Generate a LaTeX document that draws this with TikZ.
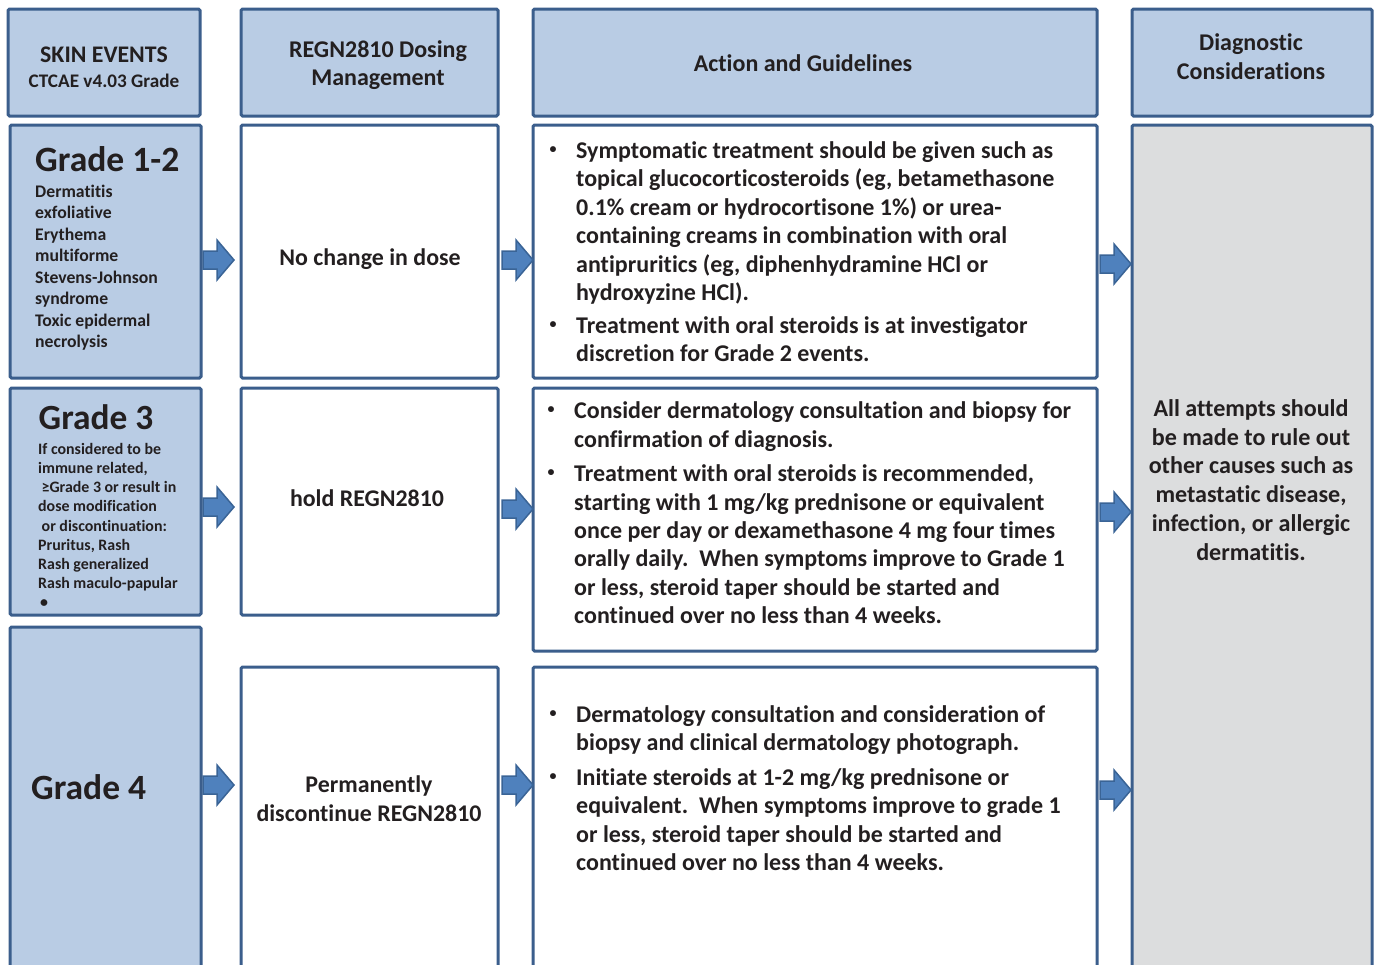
\documentclass[tikz,border=0pt]{standalone}
\usepackage{fontspec}
\setmainfont{Carlito}[Ligatures=NoCommon]
\definecolor{bordc}{HTML}{3B5E8C}
\definecolor{headfill}{HTML}{B9CCE4}
\definecolor{grayfill}{HTML}{DCDDDE}
\definecolor{arrfill}{HTML}{4F81BD}
\definecolor{arrdraw}{HTML}{3A6496}
\definecolor{txtc}{HTML}{231F20}
\newcommand{\mystrut}{\rule{0pt}{0.85em}}
\newcommand{\fsz}[2]{\fontsize{#1}{#2}\selectfont\bfseries}
\tikzset{
  box/.style={draw=bordc, line width=3pt, rectangle, rounded corners=1.5pt, inner sep=0pt, outer sep=0pt, anchor=north west},
  hbox/.style={box, fill=headfill},
  wbox/.style={box, fill=white},
  gbox/.style={box, fill=grayfill},
  txt/.style={inner sep=0pt, text=txtc},
  bul/.style={txt, font=\fsz{14}{16}, anchor=base},
  blkarr/.pic={\draw[fill=arrfill, draw=arrdraw, line width=1.5pt, line join=miter] (0,-9) -- (14,-9) -- (14,-20) -- (31,0) -- (14,20) -- (14,9) -- (0,9) -- cycle;}
}
\begin{document}
\begin{tikzpicture}[x=1pt, y=-1pt]
\useasboundingbox (0,0) rectangle (1380,964);
\clip (0,0) rectangle (1380,964);
% header boxes
\node[hbox, minimum width=192, minimum height=107] (h1) at (8,9) {};
\node[hbox, minimum width=257, minimum height=107] (h2) at (241,9) {};
\node[hbox, minimum width=564, minimum height=107] (h3) at (533,9) {};
\node[hbox, minimum width=240, minimum height=107] (h4) at (1132,9) {};
% row 1
\node[hbox, minimum width=191, minimum height=253] (g12) at (10,125) {};
\node[wbox, minimum width=257, minimum height=253] (d12) at (241,125) {};
\node[wbox, minimum width=564, minimum height=253] (a12) at (533,125) {};
% row 2
\node[hbox, minimum width=191, minimum height=227] (g3) at (10,388) {};
\node[wbox, minimum width=257, minimum height=227] (d3) at (241,388) {};
\node[wbox, minimum width=564, minimum height=263] (a3) at (533,388) {};
% row 3
\node[hbox, minimum width=191, minimum height=360] (g4) at (10,627) {};
\node[wbox, minimum width=257, minimum height=320] (d4) at (241,667) {};
\node[wbox, minimum width=564, minimum height=320] (a4) at (533,667) {};
% diagnostic column
\node[gbox, minimum width=240, minimum height=870] (diag) at (1132,125) {};

% header texts
\node[txt, font=\fsz{23.8}{26}, anchor=base] (th1a) at (104,62.5) {SKIN EVENTS};
\node[txt, font=\fsz{19.2}{22}, anchor=base] (th1b) at (104,87.5) {CTCAE v4.03 Grade};
\node[txt, font=\fsz{24}{26}, anchor=base] (th2a) at (378,57) {REGN2810 Dosing};
\node[txt, font=\fsz{24}{26}, anchor=base] (th2b) at (378,85) {Management};
\node[txt, font=\fsz{24}{26}, anchor=base] (th3) at (803,71.5) {Action and Guidelines};
\node[txt, font=\fsz{24}{26}, anchor=base] (th4a) at (1251,50.5) {Diagnostic};
\node[txt, font=\fsz{24}{26}, anchor=base] (th4b) at (1251,79.5) {Considerations};

% column 1 texts
\node[txt, font=\fsz{35.6}{38}, anchor=base west] (tg12) at (35,171.5) {Grade 1-2};
\node[txt, font=\fsz{17.7}{21.5}, anchor=north west, align=left] (tg12l) at (35,{197-0.85*17.7}) {\mystrut Dermatitis\\exfoliative\\Erythema\\multiforme\\Stevens-Johnson\\syndrome\\Toxic epidermal\\necrolysis};
\node[txt, font=\fsz{35.4}{38}, anchor=base west] (tg3) at (38.5,429.5) {Grade 3};
\node[txt, font=\fsz{15.9}{19.2}, anchor=north west, align=left] (tg3l) at (38,{454-0.85*15.9}) {\mystrut If considered to be\\immune related,\\\hspace{3.5pt}≥Grade 3 or result in\\dose modification\\\hspace{3.5pt}or discontinuation:\\Pruritus, Rash\\Rash generalized\\Rash maculo-papular\\\hspace{2pt}•};
\node[txt, font=\fsz{35.5}{38}, anchor=base west] (tg4) at (31,799) {Grade 4};

% column 2 texts
\node[txt, font=\fsz{23.9}{28.5}, anchor=base] (td12) at (370,265) {No change in dose};
\node[txt, font=\fsz{23.9}{28.5}, anchor=base] (td3) at (367,506.5) {hold REGN2810};
\node[txt, font=\fsz{23.9}{29}, anchor=north, align=center] (td4) at (369,{792.5-0.85*23.9}) {\mystrut Permanently\\discontinue REGN2810};

% column 3 texts
\node[bul] (b1a) at (553,153) {•};
\node[txt, font=\fsz{24}{28.5}, anchor=north west, align=left] (t1a) at (576,{158-0.85*24}) {\mystrut Symptomatic treatment should be given such as\\topical glucocorticosteroids (eg, betamethasone\\0.1\% cream or hydrocortisone 1\%) or urea-\\containing creams in combination with oral\\antipruritics (eg, diphenhydramine HCl or\\hydroxyzine HCl).};
\node[bul] (b1b) at (553,328) {•};
\node[txt, font=\fsz{24}{28.5}, anchor=north west, align=left] (t1b) at (576,{333-0.85*24}) {\mystrut Treatment with oral steroids is at investigator\\discretion for Grade 2 events.};

\node[bul] (b2a) at (551,413.5) {•};
\node[txt, font=\fsz{24}{28.5}, anchor=north west, align=left] (t2a) at (574,{418.5-0.85*24}) {\mystrut Consider dermatology consultation and biopsy for\\confirmation of diagnosis.};
\node[bul] (b2b) at (551,476.5) {•};
\node[txt, font=\fsz{24}{28.4}, anchor=north west, align=left] (t2b) at (574,{481.5-0.85*24}) {\mystrut Treatment with oral steroids is recommended,\\starting with 1 mg/kg prednisone or equivalent\\once per day or dexamethasone 4 mg four times\\orally daily.\ \ When symptoms improve to Grade 1\\or less, steroid taper should be started and\\continued over no less than 4 weeks.};

\node[bul] (b3a) at (553,717) {•};
\node[txt, font=\fsz{24}{28.4}, anchor=north west, align=left] (t3a) at (576,{722-0.85*24}) {\mystrut Dermatology consultation and consideration of\\biopsy and clinical dermatology photograph.};
\node[bul] (b3b) at (553,780) {•};
\node[txt, font=\fsz{24}{28.4}, anchor=north west, align=left] (t3b) at (576,{785-0.85*24}) {\mystrut Initiate steroids at 1-2 mg/kg prednisone or\\equivalent.\ \ When symptoms improve to grade 1\\or less, steroid taper should be started and\\continued over no less than 4 weeks.};

% column 4 text
\node[txt, font=\fsz{24.1}{28.8}, anchor=north, align=center] (t4) at (1251,{416-0.85*24.1}) {\mystrut All attempts should\\be made to rule out\\other causes such as\\metastatic disease,\\infection, or allergic\\dermatitis.};

% block arrows
\pic at (203,260) {blkarr};
\pic at (502,260) {blkarr};
\pic at (1100,264) {blkarr};
\pic at (203,507) {blkarr};
\pic at (502,509) {blkarr};
\pic at (1100,512) {blkarr};
\pic at (203,785) {blkarr};
\pic at (502,785) {blkarr};
\pic at (1100,790) {blkarr};
\end{tikzpicture}
\end{document}
